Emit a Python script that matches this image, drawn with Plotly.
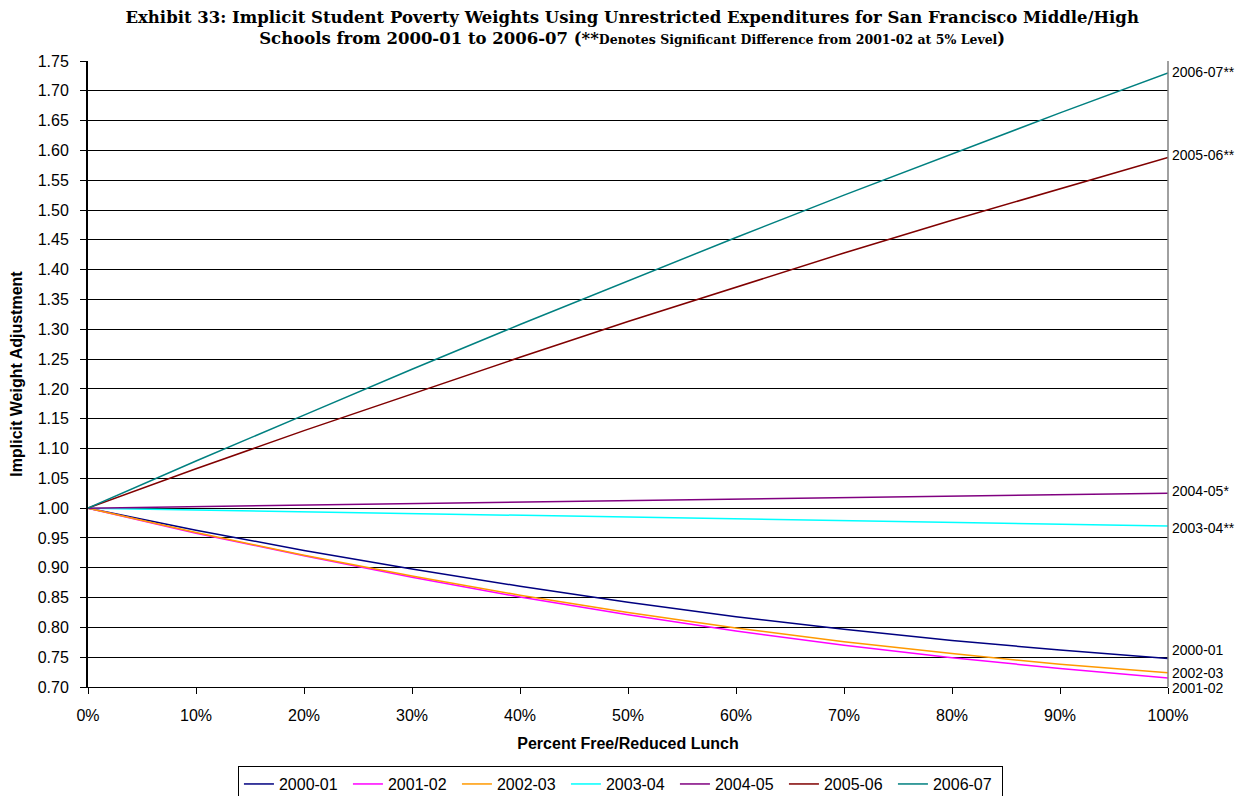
import plotly.graph_objects as go

pct = [0, 10, 20, 30, 40, 50, 60, 70, 80, 90, 100]

y_2000_01 = [1.000, 0.963, 0.929, 0.898, 0.869, 0.842, 0.818, 0.797, 0.778, 0.762, 0.748]
y_2001_02 = [1.000, 0.958, 0.920, 0.884, 0.851, 0.821, 0.794, 0.770, 0.749, 0.731, 0.715]
y_2002_03 = [1.000, 0.959, 0.921, 0.886, 0.854, 0.825, 0.799, 0.776, 0.756, 0.738, 0.724]
y_2003_04 = [1.000, 0.997, 0.994, 0.991, 0.988, 0.985, 0.982, 0.979, 0.976, 0.973, 0.970]
y_2004_05 = [1.000, 1.0025, 1.005, 1.0075, 1.010, 1.0125, 1.015, 1.0175, 1.020, 1.0225, 1.025]
y_2005_06 = [1.000, 1.066, 1.130, 1.192, 1.253, 1.313, 1.371, 1.428, 1.483, 1.536, 1.588]
y_2006_07 = [1.000, 1.079, 1.156, 1.233, 1.308, 1.381, 1.454, 1.525, 1.594, 1.663, 1.730]

series_names = ["2000-01", "2001-02", "2002-03", "2003-04", "2004-05", "2005-06", "2006-07"]
series_vals = [y_2000_01, y_2001_02, y_2002_03, y_2003_04, y_2004_05, y_2005_06, y_2006_07]
series_colors = ["#000080", "#FF00FF", "#FF9900", "#00FFFF", "#800080", "#800000", "#008080"]
end_labels = ["2000-01", "2001-02", "2002-03", "2003-04**", "2004-05*", "2005-06**", "2006-07**"]
label_shift = [8, -10, 0, -2, 2, 3, 1]

y_ticks = [round(0.70 + 0.05 * i, 2) for i in range(22)]
x_ticks = list(range(0, 101, 10))

SANS = "Liberation Sans, Arial"

fig = go.Figure()
for name, vals, col in zip(series_names, series_vals, series_colors):
    fig.add_trace(go.Scatter(x=pct, y=vals, mode="lines", name=name,
                             line=dict(color=col, width=1.5)))

for lab, vals, col, sh in zip(end_labels, series_vals, series_colors, label_shift):
    fig.add_annotation(x=1, xref="paper", y=vals[-1], yref="y", text=lab,
                       showarrow=False, xanchor="left", yanchor="middle",
                       xshift=2, yshift=sh,
                       font=dict(family=SANS, size=14, color="black"))

title_text = ("<b>Exhibit 33: Implicit Student Poverty Weights Using Unrestricted Expenditures for San Francisco Middle/High<br>"
              "Schools from 2000-01 to 2006-07 (**<span style='font-size:12.5px'>Denotes Significant Difference from 2001-02 at 5% Level</span>)</b>")

fig.update_layout(
    width=1236, height=788,
    paper_bgcolor="white", plot_bgcolor="white",
    margin=dict(l=80, r=76, t=53, b=109, autoexpand=False),
    font=dict(family=SANS, size=16, color="black"),
    title=dict(text=title_text, x=0.505, xanchor="center", xref="container",
               y=0.981, yanchor="top", yref="container",
               font=dict(family="DejaVu Serif", size=16.5, color="black")),
    xaxis=dict(range=[0, 100], tickvals=x_ticks, ticktext=[f"{v}%" for v in x_ticks],
               showgrid=False, zeroline=False, showline=True, linecolor="black", linewidth=1,
               ticks="outside", ticklen=6, tickcolor="black", ticklabelstandoff=8,
               title=dict(text="<b>Percent Free/Reduced Lunch</b>", standoff=14,
                          font=dict(size=16))),
    yaxis=dict(range=[0.70, 1.75], tickvals=y_ticks, ticktext=[f"{v:.2f}" for v in y_ticks],
               showgrid=True, gridcolor="black", gridwidth=1, zeroline=False,
               showline=True, linecolor="black", linewidth=2,
               ticks="outside", ticklen=6, tickcolor="black", ticklabelstandoff=8,
               title=dict(text="<b>Implicit Weight Adjustment</b>", standoff=14,
                          font=dict(size=16))),
    legend=dict(orientation="h", x=0.493, xanchor="center", xref="paper",
                y=0.038, yanchor="top", yref="container",
                bordercolor="black", borderwidth=1, bgcolor="white",
                font=dict(size=16), itemwidth=30, tracegroupgap=0,
                entrywidth=64, entrywidthmode="pixels"),
    showlegend=True,
)

fig.add_shape(type="line", xref="paper", yref="paper", x0=1, x1=1, y0=0, y1=1,
              line=dict(color="#808080", width=1.5))

fig.write_html("out.html")
